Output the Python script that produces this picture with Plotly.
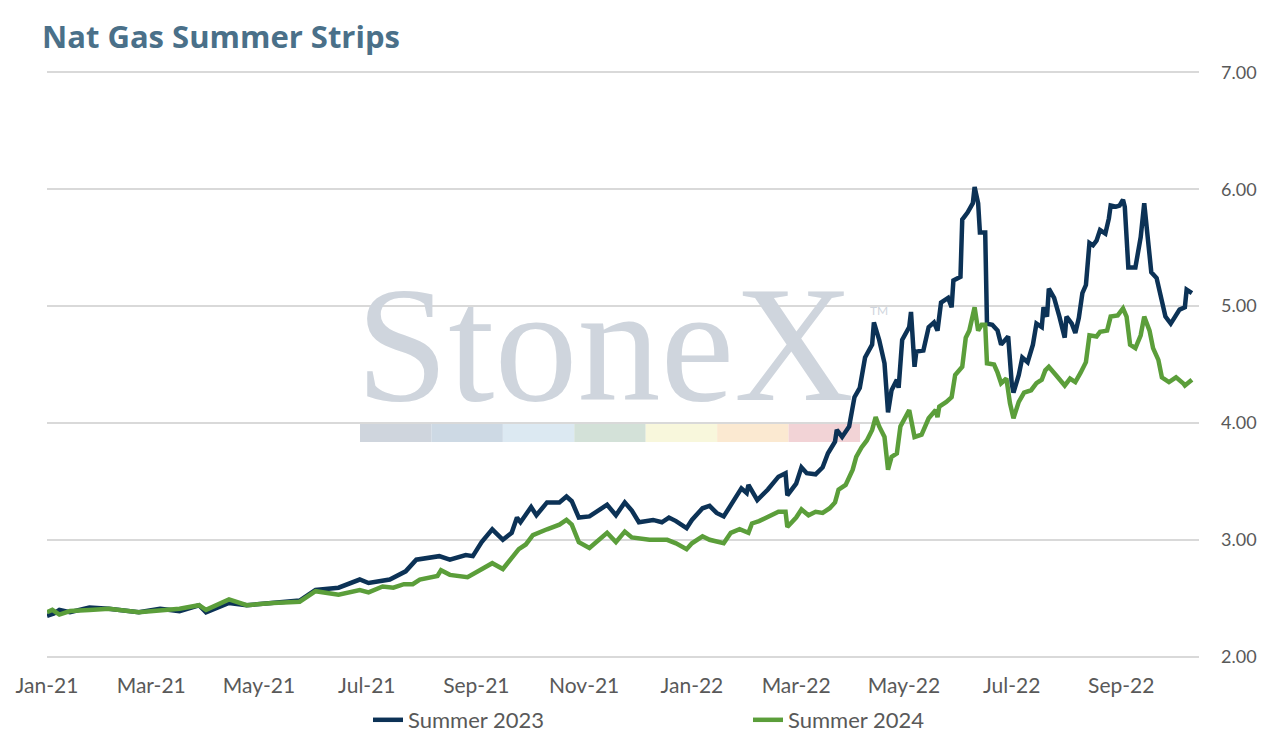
import plotly.graph_objects as go

# Summer 2023 strip (navy)
dates_2023 = [
    '2021-01-01', '2021-01-05', '2021-01-08', '2021-01-14', '2021-01-25', '2021-02-05', '2021-02-22',
    '2021-03-06', '2021-03-17', '2021-03-28', '2021-04-01', '2021-04-14', '2021-04-24', '2021-05-09',
    '2021-05-24', '2021-06-02', '2021-06-15', '2021-06-27', '2021-07-02', '2021-07-14', '2021-07-23',
    '2021-07-29', '2021-08-11', '2021-08-17', '2021-08-26', '2021-08-30', '2021-09-04', '2021-09-10',
    '2021-09-16', '2021-09-21', '2021-09-24', '2021-09-26', '2021-10-02', '2021-10-05', '2021-10-11',
    '2021-10-18', '2021-10-22', '2021-10-25', '2021-10-29', '2021-11-04', '2021-11-14', '2021-11-19',
    '2021-11-24', '2021-11-28', '2021-12-02', '2021-12-10', '2021-12-15', '2021-12-19', '2021-12-23',
    '2021-12-29', '2022-01-01', '2022-01-07', '2022-01-11', '2022-01-15', '2022-01-19', '2022-01-24',
    '2022-01-29', '2022-02-01', '2022-02-02', '2022-02-07', '2022-02-13', '2022-02-19', '2022-02-23',
    '2022-02-24', '2022-03-01', '2022-03-04', '2022-03-07', '2022-03-12', '2022-03-16', '2022-03-19',
    '2022-03-23', '2022-03-24', '2022-03-27', '2022-03-31', '2022-04-03', '2022-04-06', '2022-04-09',
    '2022-04-13', '2022-04-14', '2022-04-17', '2022-04-20', '2022-04-22', '2022-04-24', '2022-04-27',
    '2022-04-28', '2022-04-30', '2022-05-04', '2022-05-05', '2022-05-07', '2022-05-08', '2022-05-12',
    '2022-05-15', '2022-05-18', '2022-05-20', '2022-05-22', '2022-05-26', '2022-05-28', '2022-05-29',
    '2022-06-02', '2022-06-03', '2022-06-06', '2022-06-09', '2022-06-10', '2022-06-12', '2022-06-13',
    '2022-06-16', '2022-06-17', '2022-06-20', '2022-06-23', '2022-06-25', '2022-06-27', '2022-06-29',
    '2022-07-01', '2022-07-02', '2022-07-05', '2022-07-07', '2022-07-10', '2022-07-13', '2022-07-15',
    '2022-07-18', '2022-07-19', '2022-07-21', '2022-07-22', '2022-07-25', '2022-07-28', '2022-07-31',
    '2022-08-01', '2022-08-04', '2022-08-06', '2022-08-08', '2022-08-10', '2022-08-12', '2022-08-14',
    '2022-08-16', '2022-08-18', '2022-08-20', '2022-08-23', '2022-08-25', '2022-08-26', '2022-08-29',
    '2022-08-31', '2022-09-02', '2022-09-03', '2022-09-05', '2022-09-09', '2022-09-12', '2022-09-14',
    '2022-09-16', '2022-09-18', '2022-09-21', '2022-09-24', '2022-09-26', '2022-09-29', '2022-10-01',
    '2022-10-04', '2022-10-07', '2022-10-08', '2022-10-11',
]
summer_2023 = [
    2.35, 2.37, 2.40, 2.38, 2.42, 2.41, 2.38,
    2.41, 2.39, 2.44, 2.38, 2.46, 2.44, 2.46,
    2.48, 2.57, 2.59, 2.66, 2.63, 2.66, 2.73,
    2.83, 2.86, 2.83, 2.87, 2.86, 2.98, 3.09,
    3.00, 3.06, 3.19, 3.15, 3.28, 3.21, 3.32,
    3.32, 3.37, 3.33, 3.19, 3.20, 3.30, 3.21,
    3.32, 3.25, 3.15, 3.17, 3.15, 3.19, 3.16,
    3.10, 3.17, 3.27, 3.29, 3.23, 3.20, 3.32,
    3.44, 3.40, 3.47, 3.34, 3.43, 3.54, 3.57,
    3.38, 3.48, 3.62, 3.57, 3.56, 3.62, 3.74,
    3.84, 3.94, 3.88, 3.97, 4.22, 4.30, 4.56,
    4.67, 4.86, 4.71, 4.51, 4.09, 4.28, 4.37,
    4.30, 4.71, 4.82, 4.95, 4.48, 4.61, 4.62,
    4.82, 4.86, 4.79, 5.03, 5.07, 4.99, 5.22,
    5.25, 5.74, 5.80, 5.88, 6.02, 5.88, 5.63,
    5.63, 4.85, 4.84, 4.79, 4.67, 4.70, 4.74,
    4.34, 4.26, 4.41, 4.56, 4.52, 4.67, 4.85,
    4.82, 4.99, 4.91, 5.15, 5.07, 4.91, 4.73,
    4.91, 4.85, 4.77, 4.90, 5.11, 5.18, 5.54,
    5.52, 5.56, 5.65, 5.62, 5.75, 5.86, 5.85,
    5.86, 5.91, 5.85, 5.33, 5.33, 5.59, 5.88,
    5.59, 5.29, 5.24, 5.03, 4.91, 4.85, 4.90,
    4.97, 4.99, 5.14, 5.11,
]

# Summer 2024 strip (green)
dates_2024 = [
    '2021-01-01', '2021-01-04', '2021-01-08', '2021-01-14', '2021-01-25', '2021-02-05', '2021-02-22',
    '2021-03-06', '2021-03-17', '2021-03-28', '2021-04-01', '2021-04-14', '2021-04-24', '2021-05-09',
    '2021-05-24', '2021-06-02', '2021-06-15', '2021-06-27', '2021-07-02', '2021-07-10', '2021-07-16',
    '2021-07-22', '2021-07-27', '2021-07-31', '2021-08-10', '2021-08-12', '2021-08-17', '2021-08-27',
    '2021-09-03', '2021-09-10', '2021-09-16', '2021-09-21', '2021-09-25', '2021-09-29', '2021-10-03',
    '2021-10-11', '2021-10-18', '2021-10-22', '2021-10-25', '2021-10-29', '2021-11-04', '2021-11-14',
    '2021-11-19', '2021-11-24', '2021-11-28', '2021-12-08', '2021-12-18', '2021-12-23', '2021-12-29',
    '2022-01-01', '2022-01-07', '2022-01-11', '2022-01-15', '2022-01-19', '2022-01-23', '2022-01-28',
    '2022-02-02', '2022-02-04', '2022-02-08', '2022-02-13', '2022-02-19', '2022-02-23', '2022-02-24',
    '2022-03-01', '2022-03-04', '2022-03-08', '2022-03-12', '2022-03-16', '2022-03-20', '2022-03-23',
    '2022-03-25', '2022-03-29', '2022-04-02', '2022-04-04', '2022-04-07', '2022-04-10', '2022-04-13',
    '2022-04-15', '2022-04-17', '2022-04-20', '2022-04-22', '2022-04-24', '2022-04-27', '2022-04-29',
    '2022-05-04', '2022-05-07', '2022-05-11', '2022-05-15', '2022-05-19', '2022-05-20', '2022-05-21',
    '2022-05-25', '2022-05-28', '2022-05-30', '2022-06-03', '2022-06-05', '2022-06-07', '2022-06-10',
    '2022-06-12', '2022-06-14', '2022-06-16', '2022-06-17', '2022-06-21', '2022-06-23', '2022-06-25',
    '2022-06-28', '2022-06-30', '2022-07-02', '2022-07-05', '2022-07-08', '2022-07-12', '2022-07-15',
    '2022-07-18', '2022-07-20', '2022-07-22', '2022-07-26', '2022-07-31', '2022-08-03', '2022-08-06',
    '2022-08-09', '2022-08-12', '2022-08-14', '2022-08-18', '2022-08-20', '2022-08-24', '2022-08-26',
    '2022-08-30', '2022-09-02', '2022-09-04', '2022-09-06', '2022-09-09', '2022-09-12', '2022-09-14',
    '2022-09-17', '2022-09-19', '2022-09-22', '2022-09-24', '2022-09-28', '2022-10-02', '2022-10-06',
    '2022-10-07', '2022-10-11',
]
summer_2024 = [
    2.38, 2.40, 2.36, 2.39, 2.40, 2.41, 2.38,
    2.40, 2.41, 2.44, 2.40, 2.49, 2.44, 2.46,
    2.47, 2.56, 2.53, 2.57, 2.55, 2.60, 2.59,
    2.62, 2.62, 2.66, 2.69, 2.74, 2.70, 2.68,
    2.74, 2.80, 2.75, 2.85, 2.92, 2.96, 3.04,
    3.09, 3.13, 3.17, 3.13, 2.98, 2.93, 3.06,
    2.98, 3.07, 3.02, 3.00, 3.00, 2.97, 2.92,
    2.97, 3.03, 3.00, 2.98, 2.97, 3.06, 3.09,
    3.06, 3.14, 3.16, 3.20, 3.24, 3.24, 3.11,
    3.19, 3.26, 3.21, 3.24, 3.23, 3.27, 3.32,
    3.43, 3.47, 3.60, 3.71, 3.79, 3.85, 3.94,
    4.05, 3.97, 3.88, 3.60, 3.71, 3.74, 3.97,
    4.11, 3.88, 3.90, 4.04, 4.11, 4.05, 4.14,
    4.18, 4.22, 4.41, 4.48, 4.73, 4.79, 4.99,
    4.79, 4.84, 4.84, 4.51, 4.50, 4.43, 4.34,
    4.38, 4.17, 4.04, 4.18, 4.26, 4.28, 4.34,
    4.37, 4.45, 4.48, 4.41, 4.32, 4.38, 4.35,
    4.43, 4.52, 4.75, 4.74, 4.78, 4.79, 4.91,
    4.92, 4.98, 4.91, 4.67, 4.64, 4.75, 4.91,
    4.79, 4.64, 4.54, 4.39, 4.35, 4.39, 4.34,
    4.32, 4.37,
]

y_ticks = [2, 3, 4, 5, 6, 7]
# watermark colour band
band_colors = ['#cfd5dd', '#cdd9e4', '#dce9f2', '#d3e1d8', '#f8f7dc', '#fbe9d1', '#f2d3d6']

navy = '#0c3256'
green = '#5b9e3a'

fig = go.Figure()
fig.add_trace(go.Scatter(x=dates_2023, y=summer_2023, mode='lines', name='Summer 2023',
                         line=dict(color=navy, width=4.5)))
fig.add_trace(go.Scatter(x=dates_2024, y=summer_2024, mode='lines', name='Summer 2024',
                         line=dict(color=green, width=4.5)))

# plot area in px (y range padded a touch so the 2.00 / 7.00 grid lines are drawn)
L, R, T, B = 47, 1199, 70, 659
def px_x(p):
    return (p - L) / (R - L)
def px_y(p):
    return (B - p) / (B - T)

seg_w = (860 - 360) / len(band_colors)
for i, c in enumerate(band_colors):
    fig.add_shape(type='rect', xref='paper', yref='paper', layer='below',
                  x0=px_x(360 + i * seg_w), x1=px_x(360 + (i + 1) * seg_w),
                  y0=px_y(442), y1=px_y(424), fillcolor=c, line=dict(width=0))

fig.add_annotation(text='StoneX', xref='paper', yref='paper', x=px_x(605), y=px_y(438),
                   xanchor='center', yanchor='bottom', showarrow=False,
                   font=dict(family='Liberation Serif', size=166, color='#cfd5dd'))
fig.add_annotation(text='TM', xref='paper', yref='paper', x=px_x(868), y=px_y(310),
                   xanchor='left', yanchor='middle', showarrow=False,
                   font=dict(family='Lato', size=12, color='#cfd5dd'))

fig.update_layout(
    width=1274, height=744,
    paper_bgcolor='white', plot_bgcolor='white',
    margin=dict(l=L, r=1274 - R, t=T, b=744 - B, autoexpand=False),
    title=dict(text='Nat Gas Summer Strips', x=42 / 1274, xanchor='left',
               y=1 - 37 / 744, yanchor='middle', yref='container',
               font=dict(family='Open Sans', size=31, weight=700, color='#4a7089')),
    font=dict(family='Lato', size=21, color='#595959'),
    showlegend=True,
    legend=dict(orientation='h', x=px_x(368), xanchor='left', yref='container',
                y=1 - 720 / 744, yanchor='middle',
                entrywidth=335, font=dict(size=22, color='#595959'), bgcolor='rgba(0,0,0,0)'),
    xaxis=dict(type='date', range=['2021-01-01', '2022-10-15'], dtick='M2', tick0='2021-01-01',
               tickformat='%b-%y', showgrid=False, zeroline=False, showline=False,
               ticks='', ticklabelstandoff=12, tickfont=dict(size=21)),
    yaxis=dict(side='right', range=[1.98, 7.02], tickvals=y_ticks, tickformat='.2f',
               showgrid=True, gridcolor='#d9d9d9', gridwidth=2, zeroline=False,
               showline=False, ticks='', ticklabelstandoff=21, tickfont=dict(size=18)),
)

# drop the default page margin so the figure sits at the window's corner
fig.write_html('out.html', config={'displayModeBar': False},
               post_script="document.body.style.margin = '0';")
